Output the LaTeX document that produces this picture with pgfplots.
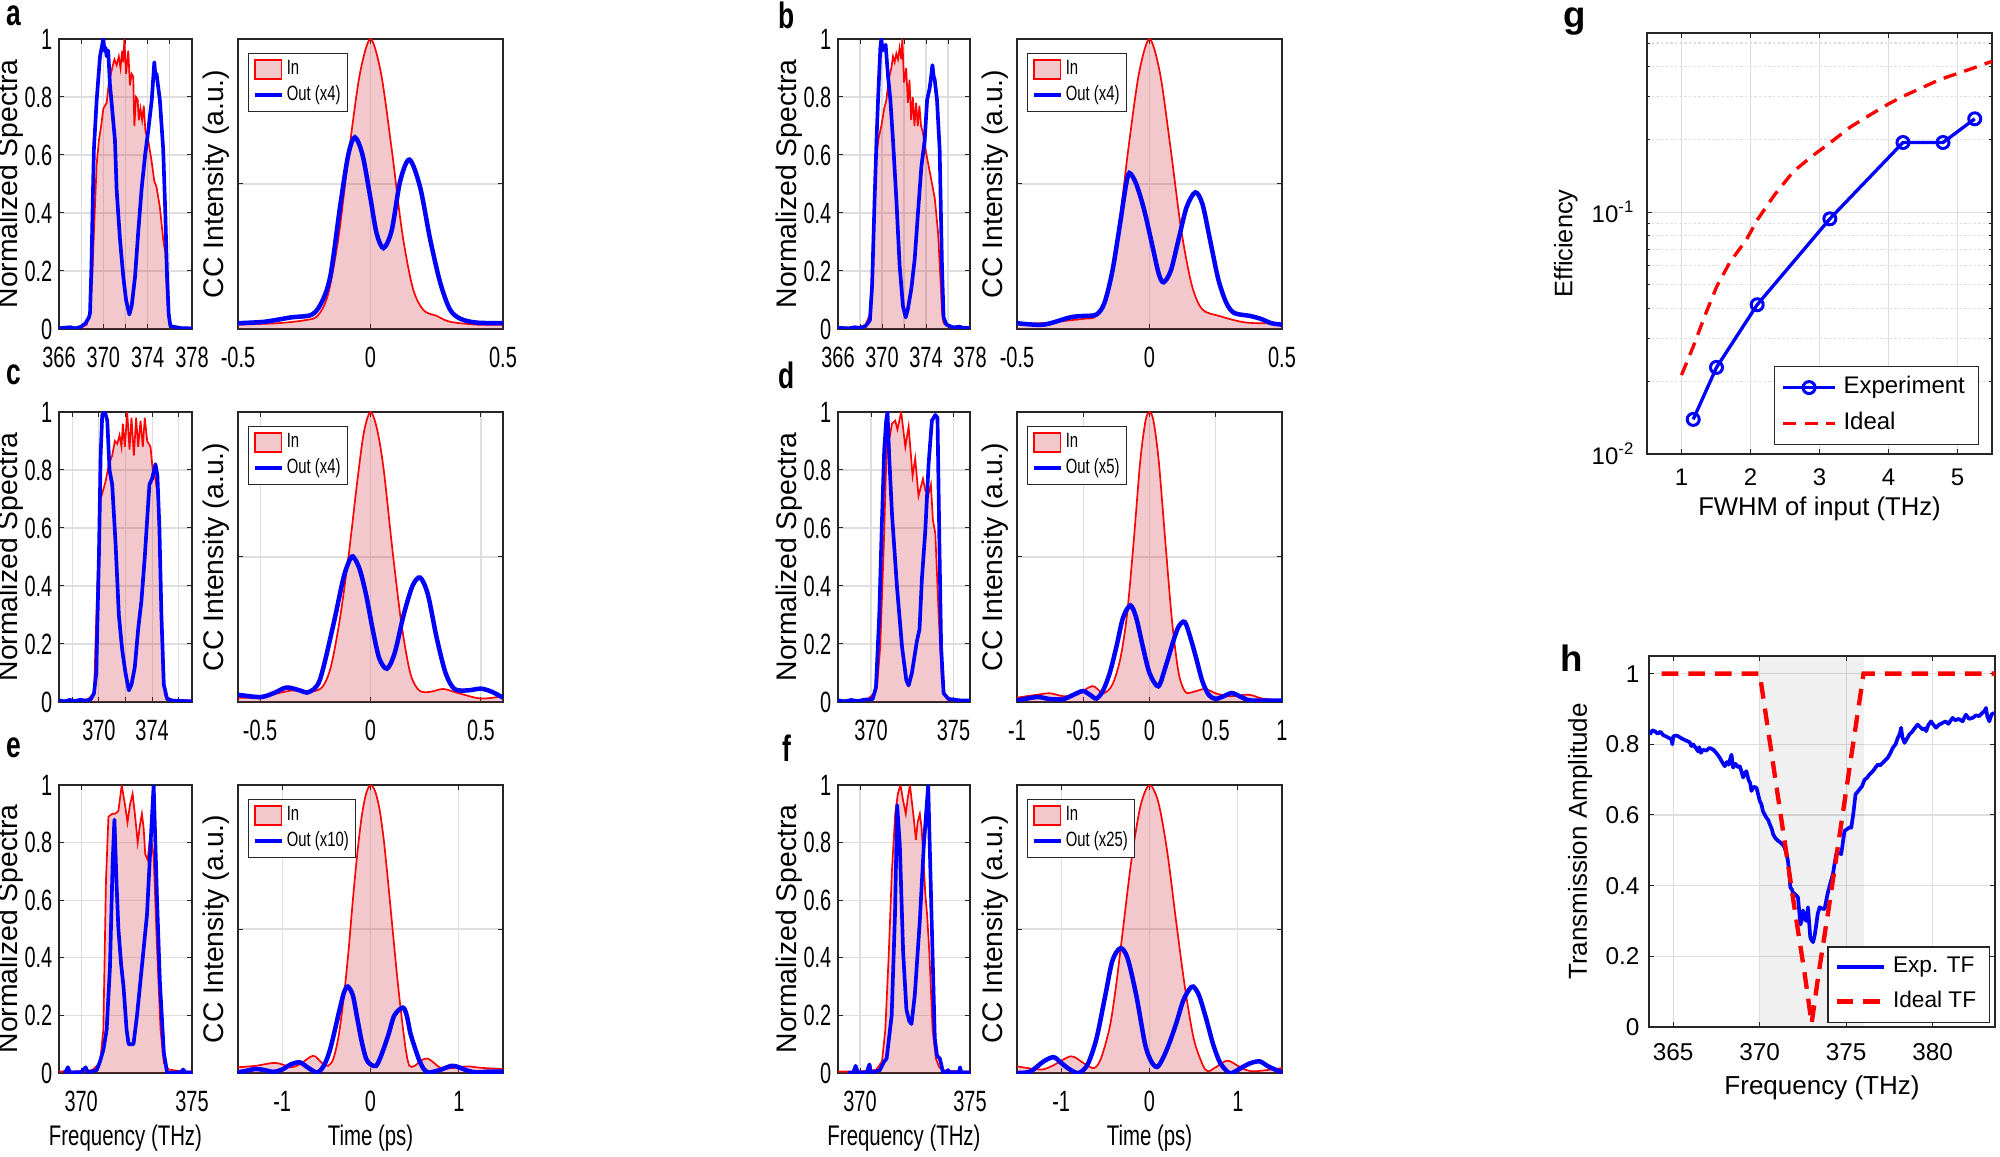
\documentclass[border=0pt]{standalone}
\usepackage{fontspec}
\setmainfont{Liberation Sans}
\newfontfamily\narrowf[FakeStretch=0.72]{Liberation Sans}
\newfontfamily\ticknf[FakeStretch=0.68]{Liberation Sans}
\usepackage{pgfplots}
\pgfplotsset{compat=1.18}
\usepackage{pgfplotstable}
\definecolor{axgray}{RGB}{38,38,38}
\definecolor{gridc}{RGB}{222,222,222}
\definecolor{pinkc}{RGB}{203,35,51}
\definecolor{pinkl}{RGB}{242,200,204}
\definecolor{mblue}{RGB}{0,0,255}
\definecolor{mred}{RGB}{255,0,0}
\newcommand\tlf{\ticknf\fontsize{8.8}{9}\selectfont}
\newcommand\ylf{\fontsize{8.5}{9}\selectfont}
\newcommand\xlf{\narrowf\fontsize{8.5}{9}\selectfont}
\newcommand\lgf{\narrowf\fontsize{6.2}{7}\selectfont}
\newcommand\plf{\narrowf\bfseries\fontsize{11}{12}\selectfont}

% ---------------- panel a ----------------
\pgfplotstableread{
x y
366 0.004
368 0.006
368.5 0.015
368.8 0.06
369.0 0.18
369.2 0.38
369.4 0.57
369.6 0.65
369.8 0.7
370.0 0.76
370.3 0.78
370.5 0.85
370.8 0.9
371.0 0.93
371.2 0.91
371.4 0.94
371.55 0.9
371.7 0.96
371.8 0.92
371.9 1.0
372.05 0.88
372.25 0.96
372.4 0.84
372.55 0.88
372.7 0.87
372.8 0.7
372.95 0.8
373.1 0.79
373.2 0.72
373.35 0.76
373.5 0.72
373.65 0.77
373.8 0.68
374.05 0.65
374.35 0.58
374.6 0.51
374.8 0.49
375.1 0.42
375.4 0.31
375.6 0.26
375.75 0.12
375.9 0.04
376.05 0.01
377 0.004
378 0.005
}\aSi
\pgfplotstableread{
x y
366 0.003
367 0.006
367.5 0.002
368 0.008
368.4 0.02
368.7 0.04
368.8 0.055
368.93 0.22
369.05 0.45
369.15 0.62
369.4 0.79
369.7 0.94
370.0 1.0
370.1 0.96
370.2 0.97
370.3 0.94
370.44 0.96
370.6 0.84
370.7 0.8
371.05 0.65
371.2 0.48
371.5 0.31
371.8 0.18
372.05 0.1
372.35 0.05
372.56 0.08
372.86 0.18
373.16 0.34
373.47 0.49
373.77 0.6
374.07 0.69
374.37 0.79
374.6 0.92
374.7 0.87
374.8 0.88
375.1 0.79
375.4 0.62
375.6 0.39
375.75 0.18
375.9 0.05
376.05 0.01
377 0.003
378 0.002
}\aSo
\pgfplotstableread{
x y
-0.5 0.015
-0.35 0.02
-0.25 0.03
-0.2 0.045
-0.16 0.12
-0.12 0.32
-0.08 0.62
-0.04 0.88
0 1
0.04 0.88
0.08 0.62
0.12 0.33
0.16 0.14
0.2 0.065
0.25 0.045
0.3 0.025
0.4 0.015
0.5 0.015
}\aCi
\pgfplotstableread{
x y
-0.5 0.02
-0.4 0.025
-0.3 0.04
-0.22 0.05
-0.18 0.1
-0.15 0.19
-0.115 0.42
-0.084 0.6
-0.059 0.661
-0.03 0.6
0.0 0.45
0.023 0.33
0.049 0.279
0.08 0.34
0.112 0.51
0.147 0.584
0.187 0.49
0.225 0.31
0.263 0.16
0.3 0.067
0.34 0.035
0.4 0.022
0.5 0.02
}\aCo
% ---------------- panel b ----------------
\pgfplotstableread{
x y
366 0.005
368 0.006
368.5 0.015
368.9 0.05
369.1 0.2
369.3 0.45
369.5 0.6
369.7 0.66
369.94 0.7
370.2 0.76
370.4 0.79
370.6 0.86
370.85 0.9
371.0 0.94
371.15 0.92
371.3 0.95
371.45 0.93
371.6 0.97
371.75 0.93
371.85 1.0
372.0 0.85
372.2 0.9
372.35 0.78
372.5 0.86
372.65 0.72
372.8 0.8
372.95 0.7
373.1 0.78
373.25 0.7
373.4 0.77
373.55 0.7
373.7 0.68
374.0 0.61
374.2 0.57
374.5 0.51
374.8 0.45
375.1 0.33
375.3 0.18
375.45 0.06
375.6 0.02
376 0.01
378 0.005
}\bSi
\pgfplotstableread{
x y
366 0.004
367 0.002
367.5 0.006
368 0.004
368.5 0.01
368.9 0.03
369.1 0.15
369.33 0.45
369.5 0.65
369.64 0.79
369.85 0.97
369.94 1.0
370.05 0.96
370.15 0.97
370.33 0.98
370.45 0.92
370.55 0.87
370.76 0.79
371.0 0.65
371.3 0.45
371.6 0.22
371.9 0.08
372.15 0.04
372.36 0.07
372.67 0.14
372.97 0.24
373.27 0.4
373.58 0.56
373.88 0.65
374.1 0.79
374.33 0.83
374.5 0.88
374.58 0.91
374.7 0.87
374.79 0.86
375.0 0.79
375.24 0.62
375.45 0.22
375.6 0.04
375.85 0.015
376.5 0.005
377 0.008
377.5 0.003
378 0.004
}\bSo
\pgfplotstableread{
x y
-0.5 0.02
-0.4 0.02
-0.3 0.03
-0.25 0.035
-0.2 0.045
-0.16 0.12
-0.12 0.32
-0.08 0.62
-0.04 0.88
0 1
0.04 0.88
0.08 0.62
0.12 0.34
0.16 0.15
0.2 0.067
0.267 0.044
0.34 0.026
0.4 0.02
0.5 0.02
}\bCi
\pgfplotstableread{
x y
-0.5 0.02
-0.4 0.015
-0.3 0.04
-0.25 0.045
-0.2 0.05
-0.17 0.09
-0.14 0.2
-0.11 0.37
-0.09 0.49
-0.076 0.538
-0.05 0.5
-0.02 0.41
0.01 0.29
0.035 0.19
0.053 0.161
0.08 0.2
0.11 0.31
0.14 0.42
0.173 0.471
0.2 0.43
0.23 0.3
0.26 0.17
0.29 0.09
0.32 0.055
0.38 0.045
0.42 0.035
0.46 0.02
0.5 0.015
}\bCo
% ---------------- panel c ----------------
\pgfplotstableread{
x y
367 0.005
368.5 0.006
369.2 0.01
369.63 0.03
369.88 0.4
370.13 0.7
370.5 0.76
370.75 0.82
371.0 0.85
371.2 0.9
371.38 0.89
371.55 0.92
371.7 0.88
371.8 0.96
371.95 0.88
372.13 1.0
372.3 0.87
372.45 0.98
372.63 0.85
372.8 0.98
372.95 0.88
373.13 0.97
373.3 0.88
373.45 0.98
373.63 0.9
373.88 0.88
374.05 0.8
374.25 0.77
374.45 0.7
374.63 0.4
374.8 0.1
375.0 0.02
375.5 0.008
377 0.005
}\cSi
\pgfplotstableread{
x y
367 0.006
367.4 0.002
367.8 0.007
368.2 0.003
368.6 0.008
369.0 0.004
369.4 0.01
369.63 0.03
369.8 0.1
370.0 0.5
370.13 0.85
370.25 0.99
370.45 1.0
370.63 0.97
370.8 0.8
371.0 0.75
371.25 0.55
371.5 0.3
371.75 0.18
372.0 0.1
372.25 0.04
372.45 0.06
372.7 0.12
372.95 0.25
373.2 0.35
373.45 0.5
373.63 0.63
373.8 0.75
374.0 0.77
374.15 0.8
374.25 0.82
374.4 0.78
374.55 0.6
374.7 0.3
374.88 0.06
375.13 0.01
375.5 0.005
376.5 0.003
377 0.003
}\cSo
\pgfplotstableread{
x y
-0.6 0.015
-0.5 0.015
-0.42 0.03
-0.35 0.04
-0.28 0.035
-0.22 0.05
-0.18 0.12
-0.14 0.28
-0.1 0.5
-0.06 0.76
-0.03 0.93
0 1.0
0.03 0.94
0.06 0.8
0.1 0.52
0.14 0.27
0.18 0.1
0.22 0.04
0.27 0.035
0.33 0.045
0.4 0.03
0.5 0.012
0.6 0.02
}\cCi
\pgfplotstableread{
x y
-0.6 0.025
-0.5 0.017
-0.44 0.03
-0.38 0.05
-0.32 0.04
-0.28 0.034
-0.23 0.075
-0.17 0.26
-0.125 0.42
-0.1 0.48
-0.08 0.502
-0.05 0.46
-0.02 0.37
0.01 0.25
0.04 0.15
0.075 0.115
0.11 0.17
0.15 0.3
0.19 0.4
0.225 0.429
0.26 0.37
0.3 0.22
0.34 0.1
0.38 0.045
0.44 0.04
0.5 0.046
0.55 0.035
0.6 0.015
}\cCo
% ---------------- panel d ----------------
\pgfplotstableread{
x y
368 0.005
369 0.006
369.8 0.01
370.2 0.03
370.36 0.05
370.56 0.19
370.77 0.53
370.93 0.84
371.0 0.93
371.15 0.92
371.27 0.96
371.47 0.97
371.6 0.94
371.83 1.0
372.08 0.88
372.28 0.95
372.52 0.78
372.68 0.84
372.88 0.71
373.15 0.77
373.29 0.73
373.5 0.72
373.63 0.75
373.75 0.63
373.9 0.58
374.1 0.3
374.3 0.07
374.5 0.02
375 0.008
376 0.005
}\dSi
\pgfplotstableread{
x y
368 0.006
368.4 0.002
368.8 0.007
369.2 0.003
369.6 0.008
370.1 0.01
370.3 0.05
370.5 0.3
370.65 0.6
370.8 0.87
370.92 0.97
371.0 1.0
371.1 0.85
371.27 0.65
371.57 0.4
371.88 0.19
372.14 0.075
372.28 0.057
372.48 0.1
372.78 0.21
372.94 0.25
373.08 0.42
373.29 0.59
373.49 0.82
373.69 0.97
373.9 0.99
374.03 0.98
374.15 0.53
374.25 0.19
374.4 0.03
374.7 0.01
375.5 0.005
376 0.005
}\dSo
\pgfplotstableread{
x y
-1 0.015
-0.85 0.025
-0.75 0.03
-0.65 0.02
-0.55 0.025
-0.43 0.055
-0.35 0.03
-0.28 0.06
-0.22 0.15
-0.17 0.3
-0.12 0.55
-0.07 0.83
-0.03 0.97
0 1.0
0.03 0.97
0.07 0.83
0.12 0.55
0.17 0.28
0.22 0.1
0.27 0.035
0.33 0.035
0.42 0.045
0.5 0.03
0.6 0.02
0.75 0.025
0.85 0.012
1 0.005
}\dCi
\pgfplotstableread{
x y
-1 0.005
-0.85 0.017
-0.75 0.01
-0.65 0.01
-0.55 0.03
-0.5 0.038
-0.45 0.025
-0.4 0.012
-0.35 0.04
-0.3 0.1
-0.25 0.19
-0.2 0.29
-0.144 0.333
-0.1 0.29
-0.05 0.19
0.0 0.1
0.066 0.054
0.12 0.12
0.18 0.21
0.22 0.26
0.266 0.276
0.31 0.22
0.35 0.155
0.4 0.07
0.45 0.023
0.5 0.011
0.56 0.02
0.62 0.031
0.68 0.02
0.75 0.006
0.85 0.005
1 0.005
}\dCo
% ---------------- panel e ----------------
\pgfplotstableread{
x y
369 0.005
370 0.006
370.5 0.01
370.85 0.035
371.0 0.15
371.12 0.67
371.23 0.89
371.4 0.9
371.53 0.9
371.68 0.91
371.83 1.0
372.0 0.92
372.09 0.87
372.2 0.93
372.32 0.97
372.45 0.88
372.55 0.8
372.65 0.86
372.74 0.9
372.82 0.85
372.89 0.76
373.0 0.74
373.08 0.8
373.15 0.82
373.27 0.75
373.42 0.44
373.58 0.15
373.73 0.035
373.95 0.012
374.5 0.006
375 0.005
}\eSi
\pgfplotstableread{
x y
369.2 0.003
369.3 0.004
369.4 0.02
369.5 0.002
370.0 0.003
370.2 0.02
370.3 0.002
370.7 0.01
370.85 0.04
371.0 0.08
371.15 0.15
371.3 0.37
371.42 0.73
371.5 0.88
371.6 0.65
371.68 0.5
371.8 0.38
371.91 0.3
372.05 0.15
372.14 0.1
372.36 0.1
372.52 0.2
372.74 0.37
372.97 0.55
373.12 0.78
373.27 1.0
373.42 0.61
373.55 0.32
373.73 0.07
373.88 0.0
374.3 0.002
374.5 0.003
374.6 0.012
374.7 0.002
375 0.002
}\eSo
\pgfplotstableread{
x y
-1.5 0.02
-1.3 0.025
-1.1 0.035
-1.0 0.03
-0.9 0.02
-0.8 0.03
-0.65 0.06
-0.55 0.035
-0.48 0.025
-0.42 0.05
-0.36 0.13
-0.3 0.27
-0.25 0.42
-0.2 0.6
-0.15 0.76
-0.1 0.89
-0.05 0.97
0 1.0
0.05 0.98
0.1 0.92
0.15 0.81
0.2 0.66
0.25 0.5
0.3 0.34
0.35 0.2
0.4 0.08
0.44 0.025
0.5 0.025
0.58 0.045
0.65 0.05
0.72 0.035
0.8 0.017
0.95 0.018
1.1 0.023
1.25 0.018
1.5 0.014
}\eCi
\pgfplotstableread{
x y
-1.5 0.002
-1.4 0.008
-1.3 0.014
-1.2 0.01
-1.1 0.004
-1.0 0.012
-0.9 0.03
-0.8 0.037
-0.7 0.017
-0.6 0.002
-0.52 0.03
-0.45 0.09
-0.35 0.22
-0.3 0.28
-0.257 0.30
-0.2 0.27
-0.15 0.19
-0.1 0.11
-0.05 0.05
0.0 0.03
0.064 0.025
0.12 0.06
0.2 0.13
0.27 0.2
0.366 0.227
0.41 0.2
0.45 0.14
0.5 0.09
0.55 0.046
0.6 0.015
0.65 0.002
0.72 0.005
0.8 0.012
0.92 0.025
1.0 0.02
1.1 0.008
1.2 0.002
1.35 0.005
1.5 0.005
}\eCo
% ---------------- panel f ----------------
\pgfplotstableread{
x y
369 0.005
370 0.006
370.5 0.008
370.74 0.012
371.0 0.04
371.15 0.15
371.3 0.4
371.45 0.7
371.6 0.9
371.72 0.97
371.84 1.0
371.95 0.95
372.08 0.9
372.18 0.96
372.27 1.0
372.36 0.94
372.45 0.88
372.54 0.81
372.62 0.87
372.72 0.9
372.8 0.85
372.88 0.75
372.97 0.62
373.05 0.55
373.15 0.42
373.3 0.15
373.45 0.05
373.6 0.02
373.75 0.01
374.5 0.005
375 0.005
}\fSi
\pgfplotstableread{
x y
369.45 0.0
369.7 0.003
369.8 0.025
369.9 0.002
370.3 0.002
370.43 0.03
370.5 0.002
370.7 0.005
370.9 0.01
371.1 0.04
371.21 0.05
371.44 0.2
371.59 0.55
371.69 0.93
371.81 0.79
371.96 0.42
372.11 0.22
372.24 0.18
372.34 0.17
372.49 0.27
372.72 0.53
372.9 0.79
373.1 1.0
373.25 0.55
373.4 0.12
373.5 0.06
373.63 0.05
373.78 0.0
373.9 0.002
374.0 0.01
374.1 0.002
374.5 0.003
374.55 0.02
374.6 0.002
375 0.002
}\fSo
\pgfplotstableread{
x y
-1.5 0.023
-1.23 0.012
-1.1 0.025
-0.89 0.058
-0.75 0.035
-0.63 0.017
-0.55 0.05
-0.45 0.16
-0.38 0.3
-0.3 0.5
-0.2 0.75
-0.1 0.93
0 1.0
0.1 0.94
0.2 0.77
0.3 0.53
0.4 0.3
0.5 0.12
0.6 0.03
0.66 0.006
0.75 0.02
0.88 0.043
1.0 0.025
1.1 0.01
1.2 0.006
1.5 0.017
}\fCi
\pgfplotstableread{
x y
-1.5 0.0
-1.35 0.005
-1.2 0.04
-1.085 0.055
-1.0 0.035
-0.9 0.012
-0.8 0.0
-0.7 0.03
-0.6 0.12
-0.5 0.27
-0.42 0.39
-0.33 0.433
-0.25 0.4
-0.15 0.27
-0.05 0.1
0.02 0.04
0.087 0.021
0.15 0.05
0.22 0.1
0.3 0.17
0.38 0.25
0.45 0.29
0.495 0.30
0.56 0.27
0.64 0.19
0.72 0.1
0.8 0.035
0.9 0.0
0.95 0.002
1.05 0.02
1.15 0.035
1.25 0.04
1.35 0.022
1.5 0.002
}\fCo
% ---------------- panel g ----------------
\pgfplotstableread{
x y
1.17 0.0139
1.507 0.0228
2.097 0.0414
3.15 0.0938
4.21 0.194
4.79 0.194
5.25 0.243
}\gE
\pgfplotstableread{
x y
1.0 0.0212
1.17 0.0278
1.35 0.038
1.51 0.0492
1.7 0.062
1.94 0.0769
2.1 0.093
2.35 0.118
2.62 0.147
2.9 0.171
3.15 0.193
3.45 0.225
3.78 0.257
4.0 0.28
4.21 0.301
4.5 0.328
4.74 0.353
5.0 0.374
5.23 0.394
5.5 0.42
}\gI
% ---------------- panel h ----------------
\pgfplotstableread{
x y
363.65 0.828
363.8 0.84
363.94 0.837
364.1 0.83
364.25 0.836
364.42 0.826
364.6 0.822
364.75 0.818
364.9 0.814
364.95 0.80
365.0 0.823
365.2 0.825
365.38 0.82
365.55 0.815
365.77 0.81
365.95 0.806
366.05 0.795
366.15 0.80
366.3 0.79
366.44 0.78
366.5 0.792
366.6 0.776
366.73 0.785
366.9 0.782
367.1 0.79
367.31 0.785
367.5 0.775
367.69 0.762
367.85 0.748
367.98 0.738
368.1 0.75
368.2 0.742
368.3 0.76
368.37 0.771
368.46 0.734
368.6 0.745
368.75 0.735
368.85 0.738
368.95 0.722
369.04 0.706
369.15 0.72
369.23 0.724
369.35 0.70
369.45 0.69
369.52 0.668
369.65 0.68
369.81 0.677
369.9 0.66
370.0 0.64
370.1 0.63
370.19 0.61
370.3 0.60
370.38 0.593
370.5 0.585
370.58 0.574
370.7 0.56
370.77 0.546
370.9 0.535
371.06 0.527
371.2 0.522
371.35 0.515
371.44 0.508
371.55 0.49
371.63 0.47
371.7 0.44
371.77 0.395
371.85 0.39
371.92 0.381
372.05 0.375
372.15 0.37
372.21 0.367
372.28 0.33
372.35 0.29
372.42 0.30
372.5 0.33
372.6 0.31
372.69 0.30
372.75 0.32
372.79 0.339
372.85 0.30
372.92 0.254
373.0 0.245
373.08 0.24
373.18 0.26
373.27 0.29
373.35 0.32
373.46 0.339
373.6 0.335
373.75 0.334
373.85 0.36
373.94 0.381
374.1 0.41
374.23 0.433
374.32 0.46
374.42 0.489
374.55 0.495
374.71 0.489
374.8 0.52
374.9 0.555
375.05 0.56
375.2 0.565
375.29 0.564
375.4 0.6
375.54 0.659
375.65 0.665
375.77 0.673
375.9 0.68
376.06 0.70
376.2 0.705
376.35 0.715
376.54 0.724
376.7 0.735
376.83 0.743
376.95 0.74
377.12 0.748
377.25 0.755
377.4 0.762
377.55 0.775
377.69 0.79
377.85 0.80
377.98 0.818
378.1 0.83
378.17 0.847
378.25 0.82
378.37 0.804
378.5 0.815
378.65 0.828
378.8 0.835
378.95 0.845
379.13 0.856
379.25 0.85
379.42 0.842
379.55 0.845
379.62 0.837
379.75 0.855
379.9 0.865
380.05 0.855
380.19 0.847
380.35 0.855
380.58 0.861
380.75 0.865
380.9 0.858
381.15 0.875
381.3 0.868
381.5 0.872
381.73 0.865
381.85 0.878
381.92 0.884
382.1 0.872
382.31 0.875
382.5 0.882
382.69 0.88
382.85 0.888
383.0 0.895
383.08 0.903
383.15 0.88
383.27 0.865
383.4 0.885
383.56 0.889
}\hE
\pgfplotstableread{
x y
364.33 1
370.0 1
371.0 0.67
372.0 0.34
372.6 0.15
373.0 0.01
373.4 0.15
374.0 0.34
375.0 0.67
376.0 1
383.6 1
}\hI

\pgfplotsset{
  mbase/.style={
    scale only axis, anchor=north west,
    axis line style={draw=axgray, line width=0.4pt},
    tick style={draw=axgray, line width=0.3pt},
    tick align=inside, major tick length=1.6pt, minor tick length=1pt,
    grid style={draw=gridc, line width=0.35pt},
    xmajorgrids, ymajorgrids,
    legend cell align=left,
  },
  spec/.style={
    mbase, width=39.9pt, height=87pt, ymin=0, ymax=1,
    ytick={0,0.2,0.4,0.6,0.8,1}, yticklabels={0,0.2,0.4,0.6,0.8,1},
    tick label style={font=\tlf},
    xticklabel style={anchor=center, yshift=-8.6pt},
    yticklabel style={anchor=east, inner sep=0pt, xshift=-1.8pt},
    ylabel={Normalized Spectra},
    ylabel style={font=\ylf, at={(axis description cs:-0.368,0.5)}, anchor=center},
    xlabel style={font=\xlf, at={(axis description cs:0.5,-0.226)}, anchor=center},
  },
  cc/.style={
    mbase, width=79.5pt, height=87pt, ymin=0, ymax=1,
    ytick={0,0.5,1}, yticklabels={},
    tick label style={font=\tlf},
    xticklabel style={anchor=center, yshift=-8.6pt},
    ylabel={CC Intensity (a.u.)},
    ylabel style={font=\ylf, at={(axis description cs:-0.083,0.5)}, anchor=center},
    xlabel style={font=\xlf, at={(axis description cs:0.5,-0.226)}, anchor=center},
    legend style={font=\lgf, draw=axgray, line width=0.4pt, fill=white,
      inner xsep=1.2pt, inner ysep=1pt, row sep=0pt,
      nodes={inner xsep=0.9pt, inner ysep=0.9pt},
      at={(rel axis cs:0.038,0.952)}, anchor=north west, cells={anchor=west}},
    legend image code/.code={\draw[#1] (0cm,0cm) -- (0.28cm,0cm);},
  },
  fillin/.style={draw=none, fill=pinkc, fill opacity=0.25, forget plot},
  redin/.style={mred, line width=0.5pt, forget plot},
  blueout/.style={mblue, line width=1.1pt, line join=round},
  bluecc/.style={mblue, line width=1.35pt, smooth},
}
\newcommand\inlegend{\addlegendimage{legend image code/.code={\draw[draw=mred, fill=pinkl, line width=0.5pt] (0cm,-0.1cm) rectangle (0.28cm,0.1cm);}}\addlegendentry{In}}

\begin{document}
\begin{tikzpicture}
\useasboundingbox (0,0) rectangle (600pt,-347.1pt);

% ===== a =====
\begin{axis}[spec, at={(17.7pt,-11.7pt)}, xmin=366, xmax=378,
  xtick={366,368,370,372,374,376,378}, xticklabels={366,,370,,374,,378}]
\addplot[fillin] table {\aSi} \closedcycle;
\addplot[redin] table {\aSi};
\addplot[blueout] table {\aSo};
\end{axis}
\begin{axis}[cc, at={(71.4pt,-11.7pt)}, xmin=-0.5, xmax=0.5,
  xtick={-0.5,0,0.5}, xticklabels={-0.5,0,0.5}]
\addplot[fillin, smooth] table {\aCi} \closedcycle;
\addplot[redin, smooth] table {\aCi};
\inlegend
\addplot[bluecc] table {\aCo};
\addlegendentry{Out (x4)}
\end{axis}

% ===== b =====
\begin{axis}[spec, at={(251.4pt,-11.7pt)}, width=39.6pt, xmin=366, xmax=378,
  xtick={366,368,370,372,374,376,378}, xticklabels={366,,370,,374,,378}]
\addplot[fillin] table {\bSi} \closedcycle;
\addplot[redin] table {\bSi};
\addplot[blueout] table {\bSo};
\end{axis}
\begin{axis}[cc, at={(305.1pt,-11.7pt)}, xmin=-0.5, xmax=0.5,
  xtick={-0.5,0,0.5}, xticklabels={-0.5,0,0.5}]
\addplot[fillin, smooth] table {\bCi} \closedcycle;
\addplot[redin, smooth] table {\bCi};
\inlegend
\addplot[bluecc] table {\bCo};
\addlegendentry{Out (x4)}
\end{axis}

% ===== c =====
\begin{axis}[spec, at={(17.7pt,-123.6pt)}, xmin=367, xmax=377,
  xtick={368,370,372,374,376}, xticklabels={,370,,374,}]
\addplot[fillin] table {\cSi} \closedcycle;
\addplot[redin] table {\cSi};
\addplot[blueout] table {\cSo};
\end{axis}
\begin{axis}[cc, at={(71.4pt,-123.6pt)}, xmin=-0.6, xmax=0.6,
  xtick={-0.5,0,0.5}, xticklabels={-0.5,0,0.5}]
\addplot[fillin, smooth] table {\cCi} \closedcycle;
\addplot[redin, smooth] table {\cCi};
\inlegend
\addplot[bluecc] table {\cCo};
\addlegendentry{Out (x4)}
\end{axis}

% ===== d =====
\begin{axis}[spec, at={(251.4pt,-123.6pt)}, width=39.6pt, xmin=368, xmax=376,
  xtick={370,375}, xticklabels={370,375}]
\addplot[fillin] table {\dSi} \closedcycle;
\addplot[redin] table {\dSi};
\addplot[blueout] table {\dSo};
\end{axis}
\begin{axis}[cc, at={(305.1pt,-123.6pt)}, xmin=-1, xmax=1,
  xtick={-1,-0.5,0,0.5,1}, xticklabels={-1,-0.5,0,0.5,1}]
\addplot[fillin, smooth] table {\dCi} \closedcycle;
\addplot[redin, smooth] table {\dCi};
\inlegend
\addplot[bluecc] table {\dCo};
\addlegendentry{Out (x5)}
\end{axis}

% ===== e =====
\begin{axis}[spec, at={(17.7pt,-235.5pt)}, height=86.4pt, xmin=369, xmax=375,
  xtick={370,375}, xticklabels={370,375}, xlabel={Frequency (THz)}]
\addplot[fillin] table {\eSi} \closedcycle;
\addplot[redin] table {\eSi};
\addplot[blueout] table {\eSo};
\end{axis}
\begin{axis}[cc, at={(71.4pt,-235.5pt)}, height=86.4pt, xmin=-1.5, xmax=1.5,
  xtick={-1,0,1}, xticklabels={-1,0,1}, xlabel={Time (ps)}]
\addplot[fillin, smooth] table {\eCi} \closedcycle;
\addplot[redin, smooth] table {\eCi};
\inlegend
\addplot[bluecc] table {\eCo};
\addlegendentry{Out (x10)}
\end{axis}

% ===== f =====
\begin{axis}[spec, at={(251.4pt,-235.5pt)}, width=39.6pt, height=86.4pt, xmin=369, xmax=375,
  xtick={370,375}, xticklabels={370,375}, xlabel={Frequency (THz)}]
\addplot[fillin] table {\fSi} \closedcycle;
\addplot[redin] table {\fSi};
\addplot[blueout] table {\fSo};
\end{axis}
\begin{axis}[cc, at={(305.1pt,-235.5pt)}, height=86.4pt, xmin=-1.5, xmax=1.5,
  xtick={-1,0,1}, xticklabels={-1,0,1}, xlabel={Time (ps)}]
\addplot[fillin, smooth] table {\fCi} \closedcycle;
\addplot[redin, smooth] table {\fCi};
\inlegend
\addplot[bluecc] table {\fCo};
\addlegendentry{Out (x25)}
\end{axis}

% ===== g =====
\begin{axis}[mbase, at={(494.1pt,-9.9pt)}, width=103.5pt, height=126.3pt,
  ymode=log, xmin=0.5, xmax=5.5, ymin=0.01, ymax=0.55,
  xtick={1,2,3,4,5}, xticklabels={1,2,3,4,5},
  ytick={0.01,0.1}, yticklabels={10\textsuperscript{-2},10\textsuperscript{-1}},
  minor ytick={0.02,0.03,0.04,0.05,0.06,0.07,0.08,0.09,0.2,0.3,0.4,0.5},
  yminorgrids,
  minor grid style={draw=gridc, line width=0.35pt, dash pattern=on 0.7pt off 0.7pt},
  tick label style={font=\fontsize{7.2}{8}\selectfont},
  xticklabel style={anchor=center, yshift=-6.9pt},
  yticklabel style={anchor=east, inner sep=0pt, xshift=-3.4pt},
  xlabel={FWHM of input (THz)}, ylabel={Efficiency},
  xlabel style={font=\fontsize{7.7}{8}\selectfont, at={(axis description cs:0.5,-0.131)}, anchor=center},
  ylabel style={font=\fontsize{7.6}{8}\selectfont, at={(axis description cs:-0.235,0.5)}, anchor=center},
  legend style={font=\fontsize{7.2}{8}\selectfont, draw=axgray, line width=0.4pt, fill=white,
    inner xsep=2pt, inner ysep=1pt, row sep=0pt,
    at={(rel axis cs:0.962,0.021)}, anchor=south east, cells={anchor=west}},
  legend image code/.code={\draw[#1] (0cm,0cm) -- (0.55cm,0cm); \draw[#1, mark repeat=1] plot coordinates {(0.275cm,0cm)};},
]
\addplot[mblue, line width=1pt, mark=o, mark size=1.8pt, mark options={solid, line width=0.9pt}] table {\gE};
\addlegendentry{Experiment}
\addplot[mred, line width=1pt, dash pattern=on 4pt off 2.5pt] table {\gI};
\addlegendentry{Ideal}
\end{axis}

% ===== h =====
\begin{axis}[mbase, at={(494.7pt,-196.8pt)}, width=103.8pt, height=111.3pt,
  xmin=363.6, xmax=383.6, ymin=0, ymax=1.05,
  xtick={365,370,375,380}, xticklabels={365,370,375,380},
  ytick={0,0.2,0.4,0.6,0.8,1}, yticklabels={0,0.2,0.4,0.6,0.8,1},
  tick label style={font=\fontsize{7.3}{8}\selectfont},
  xticklabel style={anchor=center, yshift=-7.5pt},
  yticklabel style={anchor=east, inner sep=0pt, xshift=-2.7pt},
  xlabel={Frequency (THz)}, ylabel={Transmission Amplitude},
  xlabel style={font=\fontsize{7.8}{8}\selectfont, at={(axis description cs:0.5,-0.164)}, anchor=center},
  ylabel style={font=\fontsize{7.8}{8}\selectfont, at={(axis description cs:-0.199,0.5)}, anchor=center},
  legend style={font=\fontsize{6.8}{7}\selectfont, draw=axgray, line width=0.4pt, fill=white,
    inner xsep=2pt, inner ysep=1pt, row sep=0pt,
    at={(rel axis cs:0.986,0.011)}, anchor=south east, cells={anchor=west}},
  legend image code/.code={\draw[#1] (0cm,0cm) -- (0.5cm,0cm);},
]
\addplot[draw=none, fill=black, fill opacity=0.06, forget plot] coordinates {(370,1.05) (376,1.05)} \closedcycle;
\addplot[mblue, line width=1.1pt, line join=round] table {\hE};
\addlegendentry{Exp. TF}
\addplot[mred, line width=1.3pt, dash pattern=on 5pt off 3pt] table {\hI};
\addlegendentry{Ideal TF}
\end{axis}

% ===== panel letters =====
\node[font=\plf, inner sep=0pt] at (4.2pt,-4.6pt) {a};
\node[font=\plf, inner sep=0pt] at (236.1pt,-4.6pt) {b};
\node[font=\plf, inner sep=0pt] at (4.2pt,-112.5pt) {c};
\node[font=\plf, inner sep=0pt] at (236.1pt,-112.5pt) {d};
\node[font=\plf, inner sep=0pt] at (4.2pt,-224.4pt) {e};
\node[font=\plf, inner sep=0pt] at (236.1pt,-224.4pt) {f};
\node[font=\bfseries\fontsize{11}{12}\selectfont, inner sep=0pt] at (472.5pt,-6.6pt) {g};
\node[font=\bfseries\fontsize{11}{12}\selectfont, inner sep=0pt] at (471.6pt,-197.4pt) {h};
\end{tikzpicture}
\end{document}
